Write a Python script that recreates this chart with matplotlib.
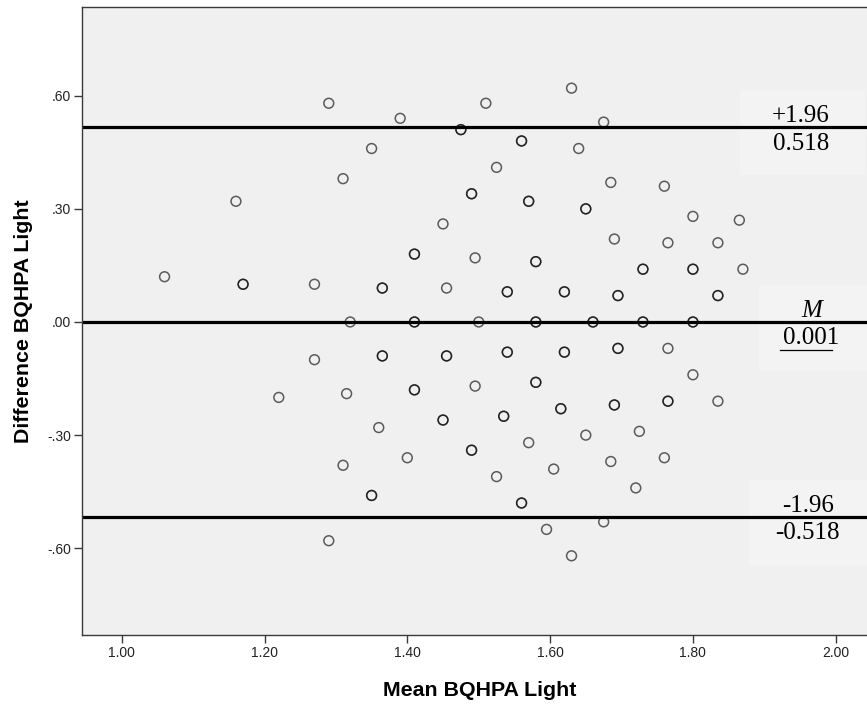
import numpy as np
import matplotlib
matplotlib.use("Agg")
import matplotlib.pyplot as plt
from matplotlib.ticker import FuncFormatter
from matplotlib.transforms import blended_transform_factory
from matplotlib.patches import Rectangle

# Bland-Altman data: mean of the two ratings vs. their difference,
# with the number of cases sharing each position
mean_vals = [1.06, 1.16, 1.17, 1.22, 1.27, 1.27, 1.29, 1.29, 1.31, 1.31,
             1.315, 1.32, 1.35, 1.35, 1.36, 1.365, 1.365, 1.39, 1.40, 1.41,
             1.41, 1.41, 1.45, 1.45, 1.455, 1.455, 1.475, 1.49, 1.49, 1.495,
             1.495, 1.50, 1.51, 1.525, 1.525, 1.535, 1.54, 1.54, 1.56, 1.56,
             1.57, 1.57, 1.58, 1.58, 1.58, 1.595, 1.605, 1.615, 1.62, 1.62,
             1.63, 1.63, 1.64, 1.65, 1.65, 1.66, 1.675, 1.675, 1.685, 1.685,
             1.69, 1.69, 1.695, 1.695, 1.72, 1.725, 1.73, 1.73, 1.76, 1.76,
             1.765, 1.765, 1.765, 1.80, 1.80, 1.80, 1.80, 1.835, 1.835, 1.835,
             1.865, 1.87]
diff_vals = [0.12, 0.32, 0.10, -0.20, 0.10, -0.10, 0.58, -0.58, 0.38, -0.38,
             -0.19, 0.00, 0.46, -0.46, -0.28, 0.09, -0.09, 0.54, -0.36, 0.18,
             0.00, -0.18, 0.26, -0.26, 0.09, -0.09, 0.51, 0.34, -0.34, 0.17,
             -0.17, 0.00, 0.58, 0.41, -0.41, -0.25, 0.08, -0.08, 0.48, -0.48,
             0.32, -0.32, 0.16, 0.00, -0.16, -0.55, -0.39, -0.23, 0.08, -0.08,
             0.62, -0.62, 0.46, 0.30, -0.30, 0.00, 0.53, -0.53, 0.37, -0.37,
             0.22, -0.22, 0.07, -0.07, -0.44, -0.29, 0.14, 0.00, 0.36, -0.36,
             0.21, -0.07, -0.21, 0.28, 0.14, 0.00, -0.14, 0.21, 0.07, -0.21,
             0.27, 0.14]
case_counts = [1, 1, 2, 1, 1, 1, 1, 1, 1, 1,
               1, 1, 1, 2, 1, 2, 2, 1, 1, 2,
               2, 2, 1, 2, 1, 2, 2, 2, 2, 1,
               1, 1, 1, 1, 1, 2, 2, 2, 2, 2,
               2, 1, 2, 2, 2, 1, 1, 2, 2, 2,
               1, 1, 1, 2, 1, 2, 1, 1, 1, 1,
               1, 2, 2, 2, 1, 1, 2, 2, 1, 1,
               1, 1, 2, 1, 2, 2, 1, 1, 2, 1,
               1, 1]

mean_diff = 0.001
loa_upper = 0.518
loa_lower = -0.518

x_ticks = [1.00, 1.20, 1.40, 1.60, 1.80, 2.00]
y_ticks = [-0.60, -0.30, 0.00, 0.30, 0.60]

W, H = 867, 706
fig = plt.figure(figsize=(W / 100, H / 100), dpi=100)
fig.patch.set_facecolor("white")
ax = fig.add_axes([82 / W, 71 / H, 785 / W, 628.3 / H])
ax.set_facecolor("#f0f0f0")
ax.set_xlim(0.9444, 2.0438)
ax.set_ylim(-0.830, 0.836)

# overlapping cases are drawn on top of each other, so they appear darker
xs = np.repeat(mean_vals, case_counts)
ys = np.repeat(diff_vals, case_counts)
ax.scatter(xs, ys, s=50, facecolors="none", edgecolors=(0, 0, 0, 0.62),
           linewidths=1.1, zorder=3)

# light panels behind the reference-line annotations
bt = blended_transform_factory(ax.transAxes, ax.transData)
for val, x0 in [(loa_upper, 0.838), (mean_diff, 0.862), (loa_lower, 0.850)]:
    ax.add_patch(Rectangle((x0, val - 0.128), 0.16, 0.226, transform=bt,
                           facecolor="#f3f3f3", edgecolor="none", zorder=1))

for val in (loa_upper, mean_diff, loa_lower):
    ax.axhline(val, color="black", lw=2.3, zorder=2)

serif = dict(family="Liberation Serif", fontsize=18, color="black",
             ha="center", va="baseline", transform=bt, zorder=4)
ax.text(0.9157, loa_upper + 0.011, "+1.96", **serif)
ax.text(0.9157, loa_upper - 0.062, f"{loa_upper:.3f}", **serif)
ax.text(0.930, mean_diff + 0.013, "M", style="italic", **serif)
ax.text(0.929, mean_diff - 0.060, f"{mean_diff:.3f}", **serif)
ax.axhline(mean_diff - 0.074, xmin=0.889, xmax=0.956, color="black", lw=0.9)
ax.text(0.925, loa_lower + 0.015, "-1.96", **serif)
ax.text(0.924, loa_lower - 0.058, f"{loa_lower:.3f}", **serif)

# axes styling
for side in ("left", "bottom", "top"):
    ax.spines[side].set_color("#3a3a3a")
    ax.spines[side].set_linewidth(1.0)
ax.spines["right"].set_visible(False)

ax.set_xticks(x_ticks)
ax.set_yticks(y_ticks)
ax.xaxis.set_major_formatter(FuncFormatter(lambda v, p: f"{v:.2f}"))


def short_fmt(v, p):
    s = f"{v:.2f}"
    if s.startswith("0"):
        s = s[1:]
    elif s.startswith("-0"):
        s = "-" + s[2:]
    return s


ax.yaxis.set_major_formatter(FuncFormatter(short_fmt))
ax.tick_params(axis="both", direction="out", length=6, width=1.0,
               color="#3a3a3a", labelsize=10, labelcolor="#222222", pad=2)
for lab in ax.get_xticklabels() + ax.get_yticklabels():
    lab.set_family("Liberation Sans")

ax.set_xlabel("Mean BQHPA Light", family="Liberation Sans",
              fontweight="bold", fontsize=15.4)
ax.set_ylabel("Difference BQHPA Light", family="Liberation Sans",
              fontweight="bold", fontsize=15.4)
ax.xaxis.set_label_coords(0.506, -0.073)
ax.yaxis.set_label_coords(-0.062, 0.5)

fig.savefig("out.png", dpi=100)
